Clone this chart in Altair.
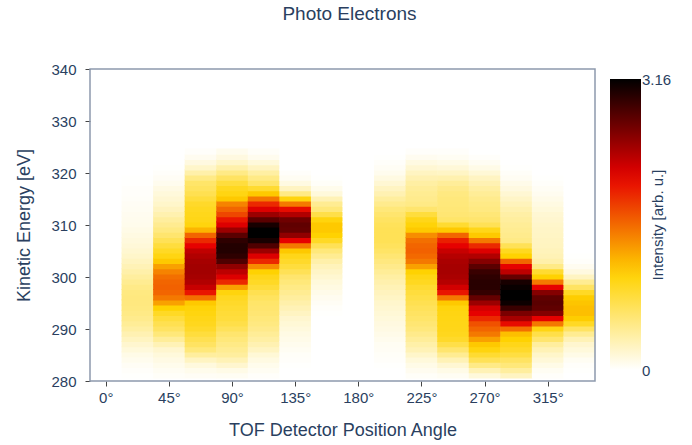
import altair as alt
import pandas as pd

FONT = "Liberation Sans"
TEXT = "#2a3f5f"
FRAME = "#8d99ad"

TITLE = "Photo Electrons"
X_TITLE = "TOF Detector Position Angle"
Y_TITLE = "Kinetic Energy [eV]"
CBAR_TITLE = "Intensity [arb. u.]"
CBAR_TOP_LABEL = "3.16"
CBAR_BOTTOM_LABEL = "0"

X_TICKS = [0, 45, 90, 135, 180, 225, 270, 315]
Y_TICKS = [280, 290, 300, 310, 320, 330, 340]

ANGLES = [0, 22.5, 45, 67.5, 90, 112.5, 135, 157.5,
          180, 202.5, 225, 247.5, 270, 292.5, 315, 337.5]
ENERGY = list(range(281, 325))  # eV, one row per 1 eV

col_000 = [0.0] * 44
col_022 = [0.01, 0.02, 0.04, 0.07, 0.1, 0.15, 0.2, 0.26, 0.32, 0.38, 0.43, 0.47, 0.5, 0.52, 0.53,
           0.53, 0.52, 0.49, 0.45, 0.4, 0.35, 0.3, 0.26, 0.22, 0.19, 0.16, 0.14, 0.12, 0.1, 0.08,
           0.07, 0.06, 0.05, 0.04, 0.03, 0.02, 0.02, 0.01, 0.01, 0, 0, 0, 0, 0]
col_045 = [0.03, 0.05, 0.08, 0.11, 0.15, 0.2, 0.3, 0.42, 0.55, 0.65, 0.72, 0.8, 0.9, 1.05, 1.3,
           1.5, 1.6, 1.62, 1.6, 1.55, 1.45, 1.3, 1.1, 0.98, 0.9, 0.8, 0.7, 0.6, 0.52, 0.46,
           0.4, 0.33, 0.27, 0.22, 0.18, 0.15, 0.11, 0.07, 0.04, 0.02, 0.01, 0, 0, 0]
col_067 = [0.04, 0.08, 0.14, 0.25, 0.4, 0.55, 0.65, 0.72, 0.8, 0.88, 0.93, 0.96, 0.99, 1.02, 1.1,
           1.55, 2.0, 2.25, 2.35, 2.4, 2.42, 2.42, 2.4, 2.35, 2.28, 2.1, 1.9, 1.6, 1.2, 1.0,
           0.96, 0.94, 0.92, 0.88, 0.8, 0.72, 0.66, 0.62, 0.5, 0.35, 0.22, 0.13, 0.06, 0.02]
col_090 = [0.05, 0.1, 0.2, 0.3, 0.4, 0.45, 0.5, 0.55, 0.6, 0.68, 0.75, 0.8, 0.82, 0.85, 0.88,
           0.92, 1.0, 1.3, 1.9, 2.15, 2.3, 2.5, 2.8, 2.95, 3.0, 3.0, 2.95, 2.75, 2.45, 2.15,
           2.0, 1.75, 1.6, 1.45, 1.1, 0.98, 0.92, 0.8, 0.65, 0.5, 0.35, 0.22, 0.13, 0.07]
col_112 = [0.02, 0.05, 0.08, 0.12, 0.17, 0.25, 0.32, 0.38, 0.43, 0.48, 0.52, 0.55, 0.58, 0.6, 0.62,
           0.66, 0.72, 0.82, 0.9, 0.95, 1.05, 1.4, 1.9, 2.15, 2.45, 2.8, 3.05, 3.16, 3.16, 3.05,
           2.75, 2.45, 2.15, 1.9, 1.5, 1.1, 0.85, 0.62, 0.5, 0.38, 0.25, 0.15, 0.07, 0.03]
col_135 = [0, 0, 0.01, 0.02, 0.03, 0.05, 0.07, 0.09, 0.11, 0.14, 0.17, 0.2, 0.25, 0.3, 0.35,
           0.4, 0.45, 0.5, 0.55, 0.6, 0.7, 0.8, 0.88, 0.95, 1.1, 1.5, 2.1, 2.5, 2.7, 2.72,
           2.65, 2.35, 2.05, 1.5, 1.0, 0.5, 0.25, 0.12, 0.05, 0.02, 0, 0, 0, 0]
col_157 = [0, 0, 0, 0, 0, 0, 0, 0, 0, 0, 0, 0, 0.01, 0.02, 0.04,
           0.06, 0.09, 0.12, 0.15, 0.19, 0.23, 0.28, 0.35, 0.45, 0.55, 0.7, 0.9, 1.05, 1.1, 1.1,
           1.0, 0.75, 0.55, 0.45, 0.3, 0.15, 0.08, 0.03, 0.01, 0, 0, 0, 0, 0]
col_180 = [0.0] * 44
col_202 = [0, 0, 0.01, 0.02, 0.03, 0.04, 0.05, 0.07, 0.09, 0.11, 0.13, 0.15, 0.17, 0.19, 0.21,
           0.24, 0.27, 0.3, 0.34, 0.38, 0.43, 0.48, 0.53, 0.58, 0.63, 0.67, 0.7, 0.7, 0.7, 0.68,
           0.65, 0.6, 0.55, 0.47, 0.4, 0.32, 0.25, 0.18, 0.12, 0.07, 0.04, 0.02, 0.01, 0]
col_225 = [0.03, 0.06, 0.1, 0.15, 0.22, 0.3, 0.36, 0.42, 0.48, 0.54, 0.58, 0.62, 0.65, 0.68, 0.72,
           0.76, 0.8, 0.85, 0.92, 0.97, 1.05, 1.3, 1.5, 1.58, 1.62, 1.6, 1.55, 1.4, 1.1, 1.02,
           0.95, 0.8, 0.6, 0.5, 0.47, 0.45, 0.42, 0.38, 0.32, 0.25, 0.18, 0.12, 0.06, 0.02]
col_247 = [0.05, 0.1, 0.18, 0.3, 0.45, 0.6, 0.75, 0.88, 0.93, 0.95, 0.96, 0.97, 0.98, 1.0, 1.1,
           1.5, 2.0, 2.2, 2.33, 2.38, 2.4, 2.4, 2.38, 2.33, 2.25, 2.1, 1.95, 1.6, 1.1, 0.85,
           0.62, 0.58, 0.56, 0.55, 0.54, 0.52, 0.48, 0.42, 0.33, 0.24, 0.16, 0.1, 0.05, 0.02]
col_270 = [0.15, 0.3, 0.5, 0.7, 0.85, 1.0, 1.1, 1.3, 1.5, 1.6, 1.7, 1.9, 2.1, 2.2, 2.45,
           2.7, 2.92, 2.97, 2.97, 2.95, 2.9, 2.75, 2.55, 2.35, 2.15, 1.9, 1.5, 1.1, 0.95, 0.7,
           0.6, 0.56, 0.52, 0.5, 0.47, 0.43, 0.38, 0.32, 0.25, 0.17, 0.1, 0.05, 0.02, 0]
col_292 = [0.25, 0.4, 0.55, 0.65, 0.78, 0.88, 0.95, 1.05, 1.15, 1.55, 2.05, 2.4, 2.6, 2.9, 3.1,
           3.16, 3.16, 3.12, 3.05, 2.7, 2.3, 2.1, 1.6, 1.05, 0.92, 0.7, 0.5, 0.47, 0.45, 0.43,
           0.4, 0.37, 0.33, 0.28, 0.23, 0.18, 0.13, 0.09, 0.05, 0.03, 0.01, 0, 0, 0]
col_315 = [0.02, 0.05, 0.1, 0.16, 0.22, 0.3, 0.4, 0.6, 0.75, 0.98, 1.5, 2.1, 2.55, 2.72, 2.75,
           2.72, 2.55, 2.1, 1.5, 1.05, 0.85, 0.5, 0.35, 0.3, 0.28, 0.26, 0.25, 0.24, 0.23, 0.22,
           0.2, 0.18, 0.15, 0.12, 0.09, 0.06, 0.04, 0.02, 0.01, 0, 0, 0, 0, 0]
col_337 = [0, 0.01, 0.02, 0.05, 0.1, 0.15, 0.2, 0.3, 0.45, 0.65, 0.9, 1.08, 1.15, 1.15, 1.12,
           1.08, 0.9, 0.65, 0.45, 0.25, 0.13, 0.06, 0.02, 0.01, 0, 0, 0, 0, 0, 0,
           0, 0, 0, 0, 0, 0, 0, 0, 0, 0, 0, 0, 0, 0]

COLUMNS = [col_000, col_022, col_045, col_067, col_090, col_112, col_135, col_157,
           col_180, col_202, col_225, col_247, col_270, col_292, col_315, col_337]

rows = []
for ang, col in zip(ANGLES, COLUMNS):
    for e, v in zip(ENERGY, col):
        rows.append({"angle": ang, "energy": e, "intensity": v})
df = pd.DataFrame(rows)

ZMAX = 3.16
STOPS = [0, ZMAX / 3, 2 * ZMAX / 3, ZMAX]
COLORS = ["#ffffff", "rgb(255,210,0)", "rgb(230,0,0)", "#000000"]
W, H = 505, 312

# each cell spans its detector bin (22.5 deg) and energy bin (1 eV); a hair of overlap
# with the next cell hides the anti-aliasing seams of the SVG renderer
heat = alt.Chart(df).transform_calculate(
    x0="datum.angle - 11.25", x1="datum.angle + 11.25 + 0.4",
    e0="datum.energy - 0.5", e1="datum.energy + 0.5 + 0.2",
).mark_rect(clip=True).encode(
    x=alt.X("x0:Q",
            scale=alt.Scale(domain=[-11.25, 348.75], nice=False, zero=False),
            axis=alt.Axis(values=X_TICKS, labelExpr="datum.value + '°'", title=X_TITLE,
                          labelPadding=4, titlePadding=16)),
    x2="x1:Q",
    y=alt.Y("e0:Q",
            scale=alt.Scale(domain=[280, 340], nice=False, zero=False),
            axis=alt.Axis(values=Y_TICKS, title=Y_TITLE, labelPadding=9, titlePadding=17)),
    y2="e1:Q",
    color=alt.Color("intensity:Q",
                    scale=alt.Scale(domain=STOPS, range=COLORS, interpolate="rgb", clamp=True),
                    legend=alt.Legend(orient="none", legendX=520, legendY=10, direction="vertical",
                                      gradientLength=291, gradientThickness=31, title=None,
                                      values=[0, ZMAX], labelOpacity=0, labelExpr="''",
                                      gradientStrokeWidth=0)),
)

# plot frame drawn above the cells, like the mirrored axis lines of the original
frame = alt.Chart(pd.DataFrame({"f": [0]})).mark_rect(
    filled=False, stroke=FRAME, strokeWidth=1.5
).encode(x=alt.value(0), x2=alt.value(W), y=alt.value(0), y2=alt.value(H))

cbar_title = alt.Chart(pd.DataFrame({"t": [CBAR_TITLE]})).mark_text(
    angle=270, fontSize=15, color=TEXT, font=FONT, align="center", baseline="middle"
).encode(text="t:N", x=alt.value(568), y=alt.value(156))

cbar_top = alt.Chart(pd.DataFrame({"t": [CBAR_TOP_LABEL]})).mark_text(
    fontSize=15, color=TEXT, font=FONT, align="left", baseline="middle"
).encode(text="t:N", x=alt.value(552), y=alt.value(11))

cbar_bottom = alt.Chart(pd.DataFrame({"t": [CBAR_BOTTOM_LABEL]})).mark_text(
    fontSize=15, color=TEXT, font=FONT, align="left", baseline="middle"
).encode(text="t:N", x=alt.value(552), y=alt.value(302))

chart = alt.layer(heat, frame, cbar_title, cbar_top, cbar_bottom).properties(
    width=W, height=H, background="white",
    title=alt.Title(TITLE, fontSize=19, font=FONT, color=TEXT, fontWeight="normal",
                    offset=38, frame="group", anchor="middle", dx=7),
    padding={"left": 15, "top": 5, "right": 5, "bottom": 5},
).configure_view(
    stroke=None
).configure_axis(
    labelFont=FONT, titleFont=FONT, labelFontSize=15, titleFontSize=18,
    labelColor=TEXT, titleColor=TEXT, titleFontWeight="normal",
    tickColor="#444444", tickSize=5, domain=False, grid=False,
)

chart.save("out.html", embed_options={"renderer": "svg", "actions": False})
